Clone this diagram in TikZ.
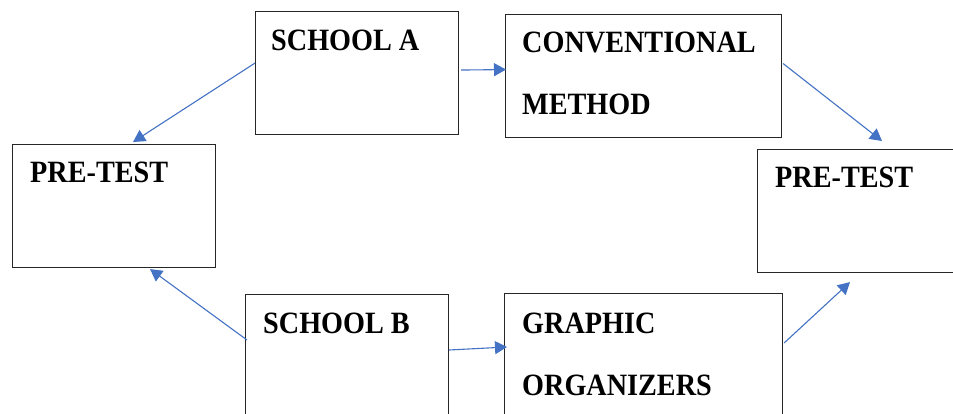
\documentclass[tikz,border=0pt]{standalone}
\usepackage{fontspec}
\setmainfont{Liberation Serif}[FakeStretch=0.91]
\usetikzlibrary{arrows.meta,calc}
\definecolor{arrowblue}{HTML}{4472C4}
\definecolor{boxline}{HTML}{262626}
\begin{document}
\begin{tikzpicture}[x=1pt,y=-1pt,
  box/.style={draw=boxline,line width=1.1pt,fill=white,rectangle,inner sep=0pt,anchor=north west},
  lbl/.style={inner sep=0pt,anchor=base west,font=\fontsize{31}{31}\selectfont\bfseries},
  conn/.style={draw=arrowblue,line width=1.1pt,-{Triangle[length=12pt,width=13pt]}}]
\useasboundingbox (0,0) rectangle (953,414);
\fill[white] (0,0) rectangle (953,414);
% boxes
\node[box,minimum width=203pt,minimum height=123pt] (schoolA) at (255,11) {};
\node[box,minimum width=203pt,minimum height=123pt] (pretestL) at (12,144) {};
\node[box,minimum width=203pt,minimum height=130pt] (schoolB) at (245,294) {};
\node[box,minimum width=276pt,minimum height=123pt] (conv) at (505,14) {};
\node[box,minimum width=205pt,minimum height=123pt] (pretestR) at (757,149) {};
\node[box,minimum width=278pt,minimum height=130pt] (graphic) at (504,293) {};
% labels
\node[lbl] (tA) at (271,51) {SCHOOL A};
\node[lbl] (tPL) at (30,183) {PRE-TEST};
\node[lbl] (tB) at (263,333) {SCHOOL B};
\node[lbl] (tC1) at (522,53) {CONVENTIONAL};
\node[lbl] (tC2) at (522,115) {METHOD};
\node[lbl] (tPR) at (775,188) {PRE-TEST};
\node[lbl] (tG1) at (522,333) {GRAPHIC};
\node[lbl] (tG2) at (522,395) {ORGANIZERS};
% connectors
\coordinate (tipPL) at ([xshift=19pt,yshift=2pt]pretestL.north);
\coordinate (tipPLb) at ([xshift=36pt,yshift=-1pt]pretestL.south);
\coordinate (tipPRt) at ([xshift=125pt,yshift=8pt]pretestR.north west);
\coordinate (tipPRb) at ([xshift=93pt,yshift=-9pt]pretestR.south west);
\draw[conn] ([yshift=10pt]schoolA.west) -- (tipPL);
\draw[conn] ([xshift=2pt,yshift=3pt]schoolA.east) -- ([xshift=1pt,yshift=6.5pt]conv.west);
\draw[conn] ([xshift=1pt,yshift=12.5pt]conv.east) -- (tipPRt);
\draw[conn] ([xshift=2pt,yshift=-46pt]schoolB.north west) -- (tipPLb);
\draw[conn] ([yshift=-56pt]schoolB.north east) -- ([xshift=3pt,yshift=-54pt]graphic.north west);
\draw[conn] ([xshift=1pt,yshift=-50pt]graphic.north east) -- (tipPRb);
\end{tikzpicture}
\end{document}
